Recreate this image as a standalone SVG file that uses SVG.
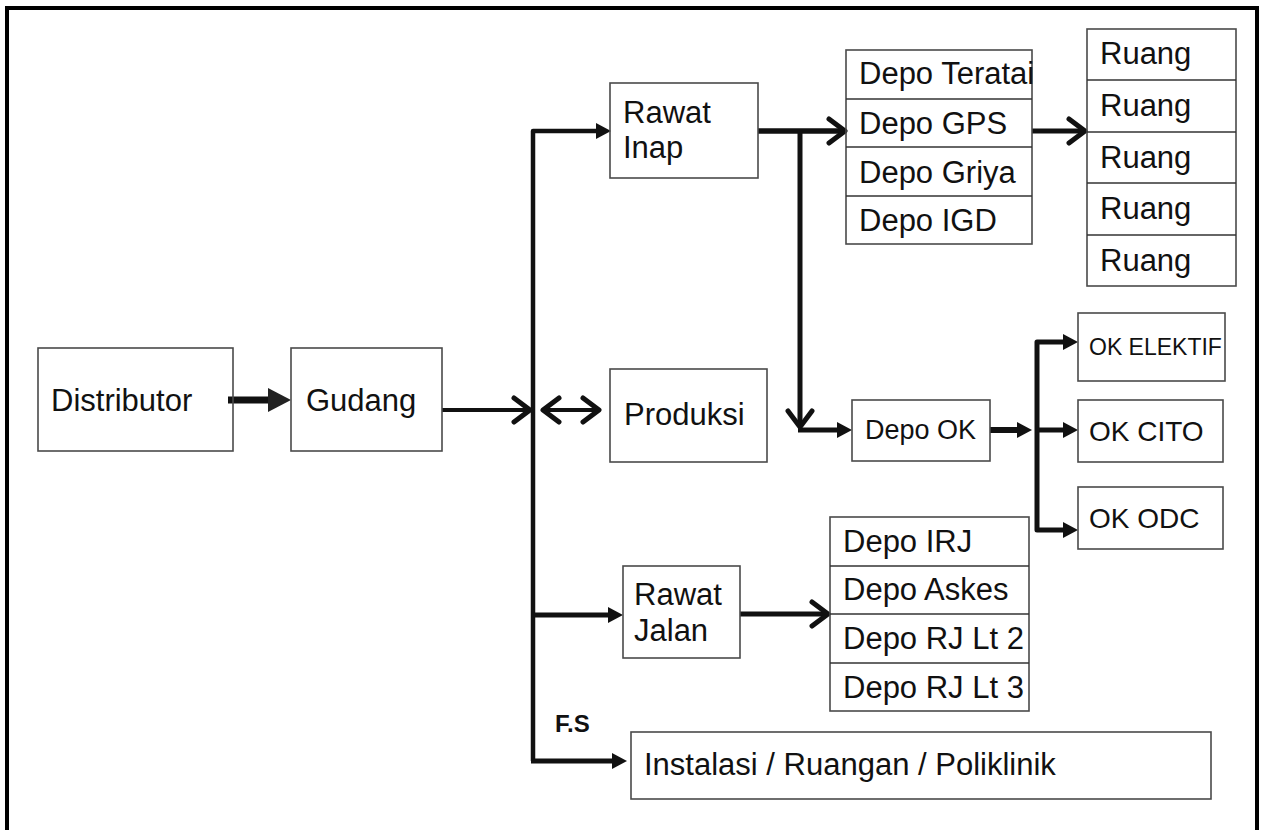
<svg xmlns="http://www.w3.org/2000/svg" width="1265" height="830" viewBox="0 0 1265 830">
<style>
  .box { fill: none; stroke: #4a4a4a; stroke-width: 1.6; }
  .sep { stroke: #333; stroke-width: 1.4; }
  .t { font-family: "Liberation Sans", Arial, sans-serif; font-size: 31px; fill: #111; }
  .ts { font-family: "Liberation Sans", Arial, sans-serif; font-size: 27px; fill: #111; }
  .fs { font-family: "Liberation Sans", Arial, sans-serif; font-size: 24px; font-weight: bold; fill: #111; }
  .ln { fill: none; stroke: #111; stroke-linejoin: round; }
</style>
<defs>
  <marker id="triBig" markerUnits="userSpaceOnUse" viewBox="0 -13 24 26" refX="0" refY="0" markerWidth="24" markerHeight="26" orient="auto">
    <path d="M0,-12 L23,0 L0,12 Z" fill="#222"/>
  </marker>
  <marker id="tri" markerUnits="userSpaceOnUse" viewBox="0 -9 16 18" refX="0" refY="0" markerWidth="16" markerHeight="18" orient="auto-start-reverse">
    <path d="M0,-8 L15,0 L0,8 Z" fill="#111"/>
  </marker>
  <marker id="chev" markerUnits="userSpaceOnUse" viewBox="-22 -16 28 32" refX="0" refY="0" markerWidth="28" markerHeight="32" orient="auto-start-reverse">
    <path d="M-16,-12 L0,0 L-16,12" fill="none" stroke="#111" stroke-width="5" stroke-linecap="round" stroke-linejoin="round"/>
  </marker>
</defs>
<rect width="1265" height="830" fill="#fff"/>
<path d="M7,840 L7,8 L1257,8 L1257,840" fill="none" stroke="#000" stroke-width="4"/>

<g id="connectors">
  <line x1="228" y1="400" x2="268" y2="400" class="ln" stroke="#222" stroke-width="7" marker-end="url(#triBig)"/>
  <line x1="442" y1="410" x2="530" y2="410" class="ln" stroke-width="4" marker-end="url(#chev)"/>
  <line x1="543" y1="410" x2="599" y2="410" class="ln" stroke-width="4" marker-start="url(#chev)" marker-end="url(#chev)"/>
  <path d="M533,761 L533,131 L596,131" class="ln" stroke-width="4.5" marker-end="url(#tri)"/>
  <line x1="533" y1="615" x2="608" y2="615" class="ln" stroke-width="5" marker-end="url(#tri)"/>
  <line x1="531" y1="761" x2="612" y2="761" class="ln" stroke-width="5" marker-end="url(#tri)"/>
  <line x1="758" y1="131" x2="845" y2="131" class="ln" stroke-width="5.5" marker-end="url(#chev)"/>
  <line x1="800" y1="131" x2="800" y2="427" class="ln" stroke-width="5" marker-end="url(#chev)"/>
  <line x1="798" y1="430" x2="837" y2="430" class="ln" stroke-width="5" marker-end="url(#tri)"/>
  <line x1="990" y1="430" x2="1017" y2="430" class="ln" stroke="#222" stroke-width="6" marker-end="url(#tri)"/>
  <path d="M1063,342 L1037,342 L1037,530 L1063,530" class="ln" stroke-width="5" marker-start="url(#tri)" marker-end="url(#tri)"/>
  <line x1="1037" y1="430" x2="1063" y2="430" class="ln" stroke-width="5" marker-end="url(#tri)"/>
  <line x1="1032" y1="131" x2="1085" y2="131" class="ln" stroke-width="5" marker-end="url(#chev)"/>
  <line x1="740" y1="614" x2="828" y2="614" class="ln" stroke-width="5" marker-end="url(#chev)"/>
</g>

<g id="distributor">
  <rect x="38" y="348" width="195" height="103" class="box"/>
  <text x="51" y="411" class="t">Distributor</text>
</g>
<g id="gudang">
  <rect x="291" y="348" width="151" height="103" class="box"/>
  <text x="306" y="411" class="t">Gudang</text>
</g>
<g id="rawat-inap">
  <rect x="610" y="83" width="148" height="95" class="box"/>
  <text x="623" y="123" class="t">Rawat</text>
  <text x="623" y="158" class="t">Inap</text>
</g>
<g id="produksi">
  <rect x="610" y="369" width="157" height="93" class="box"/>
  <text x="624" y="425" class="t">Produksi</text>
</g>
<g id="rawat-jalan">
  <rect x="623" y="566" width="117" height="92" class="box"/>
  <text x="634" y="605" class="t">Rawat</text>
  <text x="634" y="641" class="t">Jalan</text>
</g>
<g id="fs-label">
  <text x="555" y="732" class="fs">F.S</text>
</g>
<g id="instalasi">
  <rect x="631" y="732" width="580" height="67" class="box"/>
  <text x="644" y="775" class="t">Instalasi / Ruangan / Poliklinik</text>
</g>
<g id="depo-rawat-inap">
  <rect x="846" y="50" width="186" height="194" class="box"/>
  <line x1="846" y1="99" x2="1032" y2="99" class="sep"/>
  <line x1="846" y1="147" x2="1032" y2="147" class="sep"/>
  <line x1="846" y1="196" x2="1032" y2="196" class="sep"/>
  <text x="859" y="84" class="t">Depo Teratai</text>
  <text x="859" y="134" class="t">Depo GPS</text>
  <text x="859" y="183" class="t">Depo Griya</text>
  <text x="859" y="231" class="t">Depo IGD</text>
</g>
<g id="ruang">
  <rect x="1087" y="29" width="149" height="257" class="box"/>
  <line x1="1087" y1="80" x2="1236" y2="80" class="sep"/>
  <line x1="1087" y1="132" x2="1236" y2="132" class="sep"/>
  <line x1="1087" y1="183" x2="1236" y2="183" class="sep"/>
  <line x1="1087" y1="235" x2="1236" y2="235" class="sep"/>
  <text x="1100" y="64" class="t">Ruang</text>
  <text x="1100" y="116" class="t">Ruang</text>
  <text x="1100" y="168" class="t">Ruang</text>
  <text x="1100" y="219" class="t">Ruang</text>
  <text x="1100" y="271" class="t">Ruang</text>
</g>
<g id="depo-ok">
  <rect x="852" y="400" width="138" height="61" class="box"/>
  <text x="865" y="439" class="ts">Depo OK</text>
</g>
<g id="ok-elektif">
  <rect x="1078" y="313" width="147" height="68" class="box"/>
  <text x="1089" y="355" class="ts" style="font-size:23px">OK ELEKTIF</text>
</g>
<g id="ok-cito">
  <rect x="1078" y="400" width="145" height="62" class="box"/>
  <text x="1089" y="441" class="ts" style="font-size:28px">OK CITO</text>
</g>
<g id="ok-odc">
  <rect x="1078" y="487" width="145" height="62" class="box"/>
  <text x="1089" y="528" class="ts" style="font-size:28px">OK ODC</text>
</g>
<g id="depo-rawat-jalan">
  <rect x="830" y="517" width="199" height="194" class="box"/>
  <line x1="830" y1="566" x2="1029" y2="566" class="sep"/>
  <line x1="830" y1="614" x2="1029" y2="614" class="sep"/>
  <line x1="830" y1="663" x2="1029" y2="663" class="sep"/>
  <text x="843" y="552" class="t">Depo IRJ</text>
  <text x="843" y="600" class="t">Depo Askes</text>
  <text x="843" y="649" class="t">Depo RJ Lt 2</text>
  <text x="843" y="698" class="t">Depo RJ Lt 3</text>
</g>
</svg>
